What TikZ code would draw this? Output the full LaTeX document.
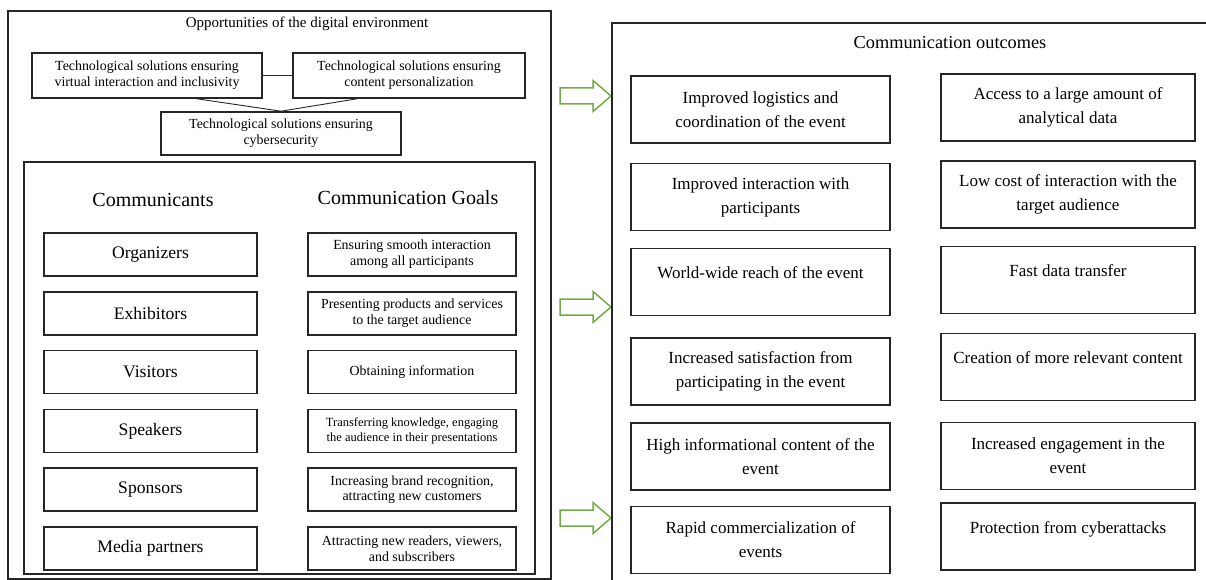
\documentclass[tikz,border=0pt]{standalone}
\usepackage{fontspec}
\setmainfont{Liberation Serif}
\usepackage{tikz}
\usetikzlibrary{calc}
\usetikzlibrary{positioning}
\definecolor{leafgreen}{RGB}{112, 173, 71}
\definecolor{inkgray}{RGB}{38, 38, 38}
\tikzset{
  boxline/.style={draw=inkgray, line width=1.6pt},
  techbox/.style={boxline, inner sep=0pt, align=center, minimum height=45pt, font=\fontsize{13.9}{15.7}\selectfont},
  partybox/.style={boxline, inner sep=0pt, align=center, minimum width=213pt, minimum height=43pt, font=\fontsize{17.6}{20}\selectfont},
  goalbox/.style={boxline, inner sep=0pt, align=center, minimum width=208pt, minimum height=43pt, font=\fontsize{13.9}{15.7}\selectfont},
  outbox/.style={boxline, inner sep=0pt, align=center, minimum height=67pt, font=\fontsize{17}{24}\selectfont},
  raised/.style={text depth=18pt},
  colhead/.style={inner sep=0pt, font=\fontsize{20}{24}\selectfont},
  blockarrow/.style={draw=leafgreen, line width=1.5pt, line join=miter},
}

\begin{document}
\begin{tikzpicture}[x=1pt, y=-1pt]
            \useasboundingbox (0,0) rectangle (1206,580);
            \clip (0,0) rectangle (1206,580);
            % digital environment
            \draw[boxline] (8,11) rectangle (551,579);
            \node[font=\fontsize{15}{18}\selectfont] (envtitle) at (307,24) {Opportunities of the digital environment};
            \node[techbox, minimum width=230pt]                       (virtual)  at (147,75.5)  {Technological solutions ensuring\\virtual interaction and inclusivity};
            \node[techbox, minimum width=232pt]                       (personal) at (409,75.5)  {Technological solutions ensuring\\content personalization};
            \node[techbox, minimum width=240pt, minimum height=43pt]  (cyber)    at (281,133.5) {Technological solutions ensuring\\cybersecurity};
            \draw[inkgray, line width=0.9pt] (virtual) -- (personal);
            \draw[inkgray, line width=0.9pt] ($(virtual.south)+(50,0)$) -- (cyber.north) -- ($(personal.south)+(-52,0)$);
            % communicants and goals
            \draw[boxline] (24,162) rectangle (535,574);
            \node[colhead] (commhead) at (153,200) {Communicants};
            \node[colhead] (goalhead) at (408,198) {Communication Goals};
            \node[partybox] (organizers) at (150.5,254.5) {Organizers};
            \node[partybox] (exhibitors) at (150.5,313.3) {Exhibitors};
            \node[partybox] (visitors)   at (150.5,372.1) {Visitors};
            \node[partybox] (speakers)   at (150.5,430.9) {Speakers};
            \node[partybox] (sponsors)   at (150.5,489.7) {Sponsors};
            \node[partybox] (media)      at (150.5,548.5) {Media partners};
            \node[goalbox]  (goalorg)    at (412,254.5)   {Ensuring smooth interaction\\among all participants};
            \node[goalbox]  (goalexh)    at (412,313.3)   {Presenting products and services\\to the target audience};
            \node[goalbox]  (goalvis)    at (412,372.1)   {Obtaining information};
            \node[goalbox, font=\fontsize{12.5}{15.7}\selectfont] (goalspk) at (412,430.9) {Transferring knowledge, engaging\\the audience in their presentations};
            \node[goalbox]  (goalspo)    at (412,489.7)   {Increasing brand recognition,\\attracting new customers};
            \node[goalbox]  (goalmed)    at (412,548.5)   {Attracting new readers, viewers,\\and subscribers};
            % arrows
            \draw[blockarrow] (560,88)  -- (593,88)  -- (593,80.5)  -- (611,96)  -- (593,111.5) -- (593,104) -- (560,104) -- cycle;
            \draw[blockarrow] (560,299) -- (593,299) -- (593,291.5) -- (611,307) -- (593,322.5) -- (593,315) -- (560,315) -- cycle;
            \draw[blockarrow] (560,510) -- (593,510) -- (593,502.5) -- (611,518) -- (593,533.5) -- (593,526) -- (560,526) -- cycle;
            % communication outcomes
            \draw[boxline] (612,23) rectangle (1220,600);
            \node[font=\fontsize{18.3}{22}\selectfont] (outtitle) at (950,43) {Communication outcomes};
            \node[outbox, minimum width=259pt]         (logistics)    at (760.5,109.5) {Improved logistics and\\coordination of the event};
            \node[outbox, minimum width=259pt]         (interaction)  at (760.5,197)   {Improved interaction with\\participants};
            \node[outbox, minimum width=259pt, raised] (reach)        at (760.5,282)   {World-wide reach of the event};
            \node[outbox, minimum width=259pt]         (satisfaction) at (760.5,371.5) {Increased satisfaction from\\participating in the event};
            \node[outbox, minimum width=259pt]         (infocontent)  at (760.5,456.5) {High informational content of the\\event};
            \node[outbox, minimum width=259pt]         (commercial)   at (760.5,540)   {Rapid commercialization of\\events};
            \node[outbox, minimum width=254pt]         (analytics)    at (1068,107.5)  {Access to a large amount of\\analytical data};
            \node[outbox, minimum width=254pt]         (lowcost)      at (1068,194.5)  {Low cost of interaction with the\\target audience};
            \node[outbox, minimum width=254pt, raised] (transfer)     at (1068,280)    {Fast data transfer};
            \node[outbox, minimum width=254pt, raised] (relevant)     at (1068,367)    {Creation of more relevant content};
            \node[outbox, minimum width=254pt]         (engagement)   at (1068,456)    {Increased engagement in the\\event};
            \node[outbox, minimum width=254pt, raised] (protection)   at (1068,536.5)  {Protection from cyberattacks};
\end{tikzpicture}
\end{document}
